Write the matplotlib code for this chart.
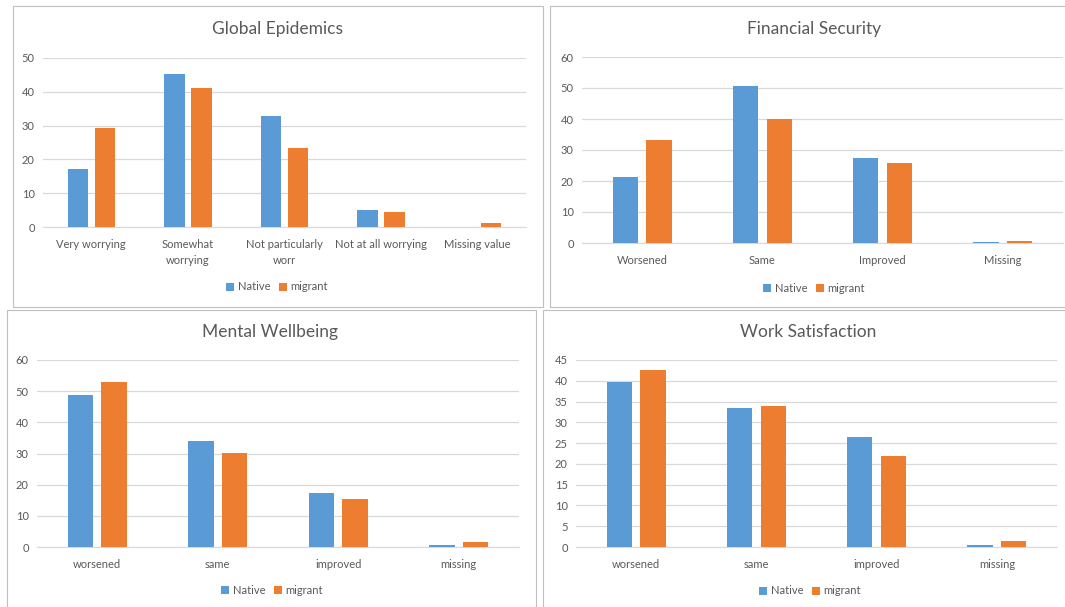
import numpy as np
import matplotlib
matplotlib.use("Agg")
import matplotlib.pyplot as plt
from matplotlib.patches import Rectangle

plt.rcParams['font.family'] = ['Lato', 'DejaVu Sans']

# data
epi_cats = ["Very worrying", "Somewhat\nworrying", "Not particularly\nworr", "Not at all worrying", "Missing value"]
epi_native = [17.1, 45.2, 32.8, 5.1, 0]
epi_migrant = [29.4, 41.0, 23.3, 4.3, 1.3]

fin_cats = ["Worsened", "Same", "Improved", "Missing"]
fin_native = [21.3, 50.8, 27.3, 0.2]
fin_migrant = [33.2, 40.0, 25.9, 0.6]

men_cats = ["worsened", "same", "improved", "missing"]
men_native = [48.9, 34.0, 17.3, 0.5]
men_migrant = [52.9, 30.3, 15.4, 1.5]

work_cats = ["worsened", "same", "improved", "missing"]
work_native = [39.8, 33.4, 26.5, 0.4]
work_migrant = [42.5, 34.0, 21.8, 1.4]

BLUE = "#5B9BD5"
ORANGE = "#ED7D31"
GRID = "#D9D9D9"
TXT = "#595959"

W, H = 1065, 607
fig = plt.figure(figsize=(W / 100, H / 100), dpi=100)


def box(x0, y0, x1, y1):
    # panel border, pixel coords from the top-left
    fig.add_artist(Rectangle((x0 / W, 1 - y1 / H), (x1 - x0) / W, (y1 - y0) / H,
                             transform=fig.transFigure, fill=False,
                             edgecolor="#BFBFBF", lw=0.8))


def panel(rect, title, title_xy, cats, native, migrant, ymax, step, leg_xy, bar_w=0.21, gap=0.07):
    x0, ytop, x1, ybot = rect
    ax = fig.add_axes([x0 / W, 1 - ybot / H, (x1 - x0) / W, (ybot - ytop) / H])
    x = np.arange(len(cats))
    off = bar_w / 2 + gap / 2
    ax.bar(x - off, native, bar_w, color=BLUE, label="Native", zorder=3)
    ax.bar(x + off, migrant, bar_w, color=ORANGE, label="migrant", zorder=3)
    ax.set_xlim(-0.5, len(cats) - 0.5)
    ax.set_ylim(0, ymax)
    ax.set_yticks(np.arange(0, ymax + 0.1, step))
    ax.set_xticks(x)
    ax.set_xticklabels(cats, fontsize=8, color=TXT, linespacing=1.5)
    ax.tick_params(axis="y", labelsize=8, labelcolor=TXT, length=0, pad=6)
    ax.tick_params(axis="x", length=0, pad=9)
    ax.grid(axis="y", color=GRID, lw=0.9, zorder=0)
    for s in ["top", "right", "left"]:
        ax.spines[s].set_visible(False)
    ax.spines["bottom"].set_color(GRID)
    fig.text(title_xy[0] / W, 1 - title_xy[1] / H, title, ha="center", va="center",
             fontsize=12.5, color=TXT)
    fig.legend(*ax.get_legend_handles_labels(), loc="center",
               bbox_to_anchor=(leg_xy[0] / W, 1 - leg_xy[1] / H), ncol=2, frameon=False,
               fontsize=8, labelcolor=TXT, handlelength=0.7, handleheight=0.7,
               handletextpad=0.3, columnspacing=0.8)
    return ax


box(13, 6, 543, 307)
box(550, 6, 1068, 307)
box(7, 310, 536, 610)
box(543, 310, 1068, 610)

panel((43, 58, 526, 227), "Global Epidemics", (277, 29), epi_cats, epi_native, epi_migrant,
      50, 10, (277, 287))
panel((582, 57, 1063, 243), "Financial Security", (814, 29), fin_cats, fin_native, fin_migrant,
      60, 10, (814, 288))
panel((37, 360, 519, 547), "Mental Wellbeing", (270, 332), men_cats, men_native, men_migrant,
      60, 10, (272, 590))
panel((576, 360, 1057, 547), "Work Satisfaction", (808, 332), work_cats, work_native, work_migrant,
      45, 5, (810, 591))

fig.savefig("out.png", dpi=100)
